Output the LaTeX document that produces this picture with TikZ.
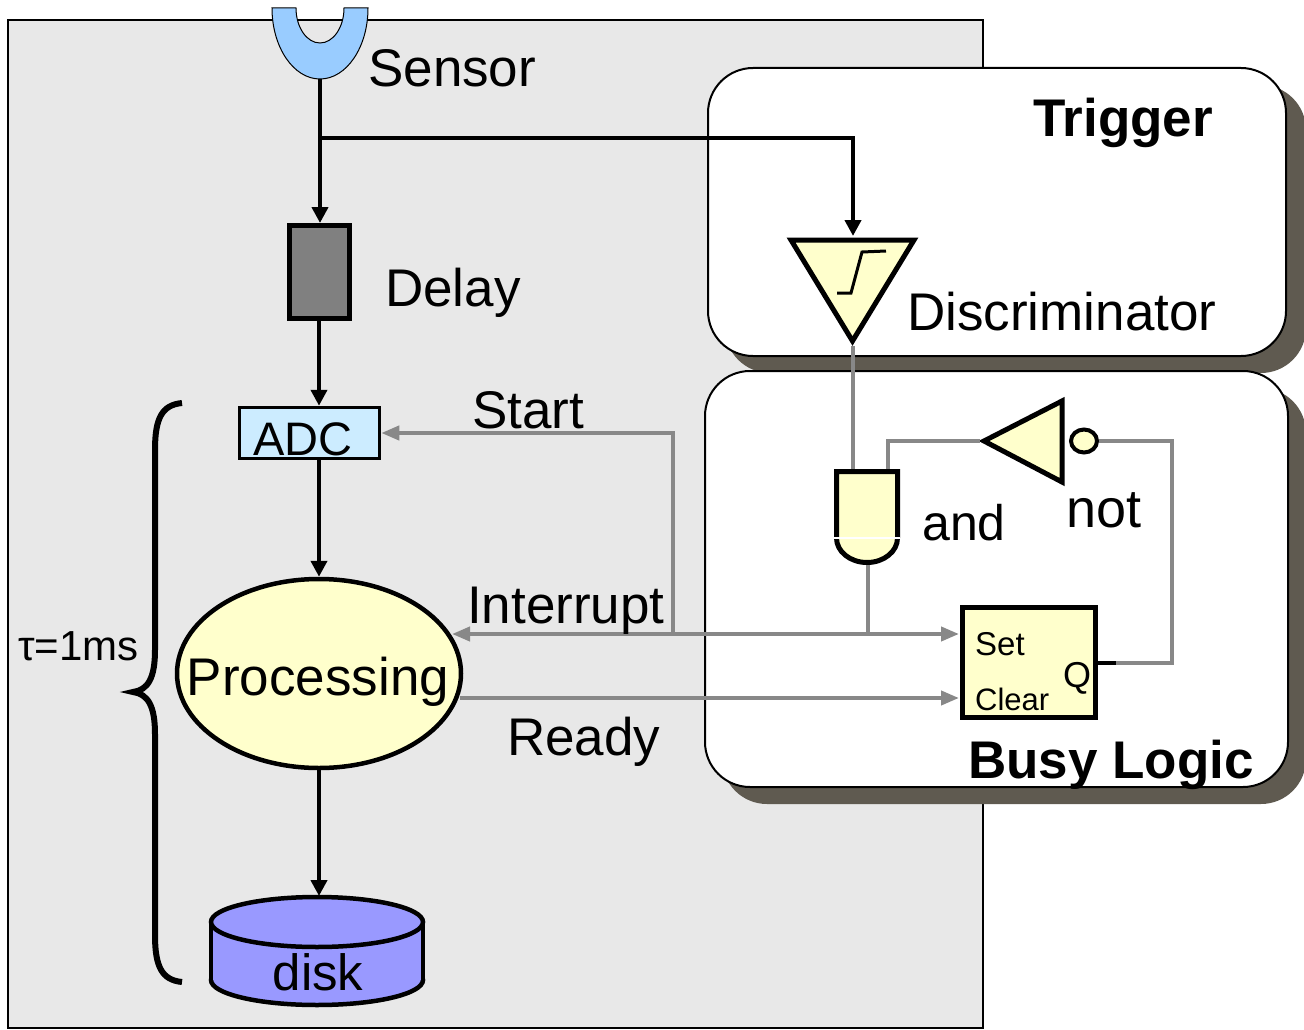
\documentclass[tikz,border=0pt]{standalone}
\usepackage{fontspec}
\setmainfont{Liberation Sans}
\usetikzlibrary{arrows.meta,shapes.geometric}
\definecolor{bggray}{HTML}{E8E8E8}
\definecolor{sensorblue}{HTML}{99CCFF}
\definecolor{delaygray}{HTML}{808080}
\definecolor{adcblue}{HTML}{CCECFF}
\definecolor{yel}{HTML}{FFFFCC}
\definecolor{diskblue}{HTML}{9999FF}
\definecolor{shadowc}{HTML}{5F5A50}
\definecolor{wire}{HTML}{888888}
\begin{document}
\begin{tikzpicture}[x=1pt,y=-1pt,line join=miter,
  btip/.tip={Triangle[length=16pt,width=16pt]},
  gtip/.tip={Triangle[length=18pt,width=14pt]},
  barrow/.style={line width=4.5pt,-btip},
  garrow/.style={line width=4pt,draw=wire,-gtip},
  gline/.style={line width=4pt,draw=wire},
  gatest/.style={line width=5pt,draw=black,fill=yel},
  boxst/.style={line width=2pt,draw=black,fill=white,rounded corners=45pt},
  shadowst/.style={fill=shadowc,rounded corners=45pt},
  lbl/.style={font=\fontsize{53}{60}\selectfont,inner sep=0pt,anchor=base west},
  blbl/.style={font=\fontsize{53}{60}\selectfont\bfseries,inner sep=0pt,anchor=base west},
  slbl/.style={font=\fontsize{50}{55}\selectfont,inner sep=0pt,anchor=base west},
  fflbl/.style={font=\fontsize{33}{36}\selectfont,inner sep=0pt,anchor=base west}
]
\useasboundingbox (0,0) rectangle (1304,1030);
% background panel
\draw[line width=2pt,fill=bggray] (8,20) rectangle (983,1028);
% trigger and busy boxes
\fill[shadowst] (725,85) rectangle (1306,373);
\draw[boxst] (708,68) rectangle (1286,356);
\fill[shadowst] (722,388) rectangle (1306,804);
\draw[boxst] (705,371) rectangle (1288,787);
\node[blbl] (trig) at (1033,137) {Trigger};
\node[blbl] (busy) at (968,778) {Busy Logic};

% sensor
\draw[line width=1pt,fill=sensorblue] (272,8) arc[start angle=180,end angle=0,x radius=48,y radius=71]
  -- (344,8) arc[start angle=0,end angle=180,x radius=24,y radius=35] -- cycle;
\coordinate (sensorout) at (320,79);
\node[lbl] (sensorlbl) at (368,87) {Sensor};

% delay
\node[draw,line width=5pt,fill=delaygray,minimum width=60pt,minimum height=93pt,inner sep=0pt] (delay) at (319,272) {};
\node[lbl] (delaylbl) at (385,306) {Delay};

% ADC
\node[draw,line width=3.5pt,fill=adcblue,minimum width=140pt,minimum height=51pt,inner sep=0pt] (adc) at (309.5,433) {};
\node[font=\fontsize{47}{50}\selectfont,inner sep=0pt,anchor=base] (adclbl) at (303,455) {ADC};

% processing
\node[draw,ellipse,line width=4.5pt,fill=yel,minimum width=284pt,minimum height=189pt,inner sep=0pt] (proc) at (319,673.5) {};
\node[lbl,anchor=base] (proclbl) at (318,695) {Processing};

% disk
\draw[line width=4.5pt,fill=diskblue] (317,980) ellipse[x radius=106,y radius=25];
\fill[diskblue] (211,922) rectangle (423,980);
\draw[line width=4.5pt] (211,922) -- (211,980) (423,922) -- (423,980);
\draw[line width=4.5pt,fill=diskblue] (317,922) ellipse[x radius=106,y radius=25];
\coordinate (disktop) at (319,896);
\node[font=\fontsize{51}{55}\selectfont,inner sep=0pt,anchor=base] (disk) at (318,990) {disk};

% brace and tau
\draw[line width=6pt,line cap=butt] (182,403) .. controls (162,405) and (155,418) .. (155,450) -- (155,650)
  .. controls (155,678) and (148,690) .. (133,692) .. controls (148,694) and (155,706) .. (155,734)
  -- (155,935) .. controls (155,967) and (162,980) .. (182,982);
\node[font=\fontsize{42}{46}\selectfont,inner sep=0pt,anchor=base west] (tau) at (18,660) {τ=1ms};

% discriminator
\draw[gatest] (791,240) -- (914,240) -- (852.5,341) -- cycle;
\draw[line width=3pt] (837,293) -- (851,293) -- (862,252) -- (886,251);
\coordinate (discin) at (853,236);
\coordinate (discout) at (853,346);
\node[lbl] (disclbl) at (907,330) {Discriminator};

% and gate
\draw[gatest] (836.5,538) -- (836.5,471.5) -- (897.5,471.5) -- (897.5,538)
  arc[start angle=0,end angle=180,x radius=30.5,y radius=24.5] -- cycle;
\draw[white,line width=1.5pt] (834,538) -- (900,538);
\coordinate (andinL) at (853,469);
\coordinate (andinR) at (888,469);
\coordinate (andout) at (868,565);
\node[slbl] (andlbl) at (922,540) {and};

% not gate
\draw[gatest] (984,441) -- (1062,401) -- (1062,482) -- cycle;
\draw[line width=4pt,fill=yel] (1084,441) ellipse[x radius=13,y radius=11.5];
\coordinate (notin) at (980,441);
\coordinate (bubbleout) at (1099,441);
\node[font=\fontsize{54}{58}\selectfont,inner sep=0pt,anchor=base west] (notlbl) at (1066,527) {not};

% flip-flop
\node[draw,line width=5pt,fill=yel,minimum width=133pt,minimum height=110pt,inner sep=0pt] (ff) at (1029,662.5) {};
\node[fflbl] (setlbl) at (975,655) {Set};
\node[font=\fontsize{31}{36}\selectfont,inner sep=0pt,anchor=base west] (clrlbl) at (975,710) {Clear};
\node[font=\fontsize{36}{40}\selectfont,inner sep=0pt,anchor=base west] (qlbl) at (1063,687) {Q};
\coordinate (ffS) at (959,634);
\coordinate (ffC) at (959,698);
\coordinate (fbk) at (1172,441);

% black signal arrows
\coordinate (branch) at (320,138);
\draw[barrow] (sensorout) -- (sensorout |- delay.north);
\draw[barrow] (branch) -| (discin);
\draw[barrow] (delay.south) -- (delay.south |- adc.north);
\draw[barrow] (adc.south -| proc.north) -- (proc.north);
\draw[barrow] (proc.south) -- (disktop);

% gray logic wires
\draw[gline] (discout) -- (andinL);
\draw[gline] (andinR) |- (notin);
\draw[line width=4pt] (ff.east) -- ++(18,0) coordinate (qstub);
\draw[gline] (qstub) -| (fbk) -- (bubbleout);
\coordinate (procI) at (452,634);
\coordinate (procR) at (460,698);
\coordinate (startj) at (673,634);
\draw[gline] (andout) -- (andout |- startj);
\draw[line width=4pt,draw=wire,gtip-gtip] (procI) -- (ffS);
\draw[garrow] (startj) |- (adc.east);
\draw[garrow] (procR) -- (ffC);
\node[lbl] (startlbl) at (472,428) {Start};
\node[lbl] (intlbl) at (467,623) {Interrupt};
\node[lbl] (readylbl) at (507,755) {Ready};
\end{tikzpicture}
\end{document}
